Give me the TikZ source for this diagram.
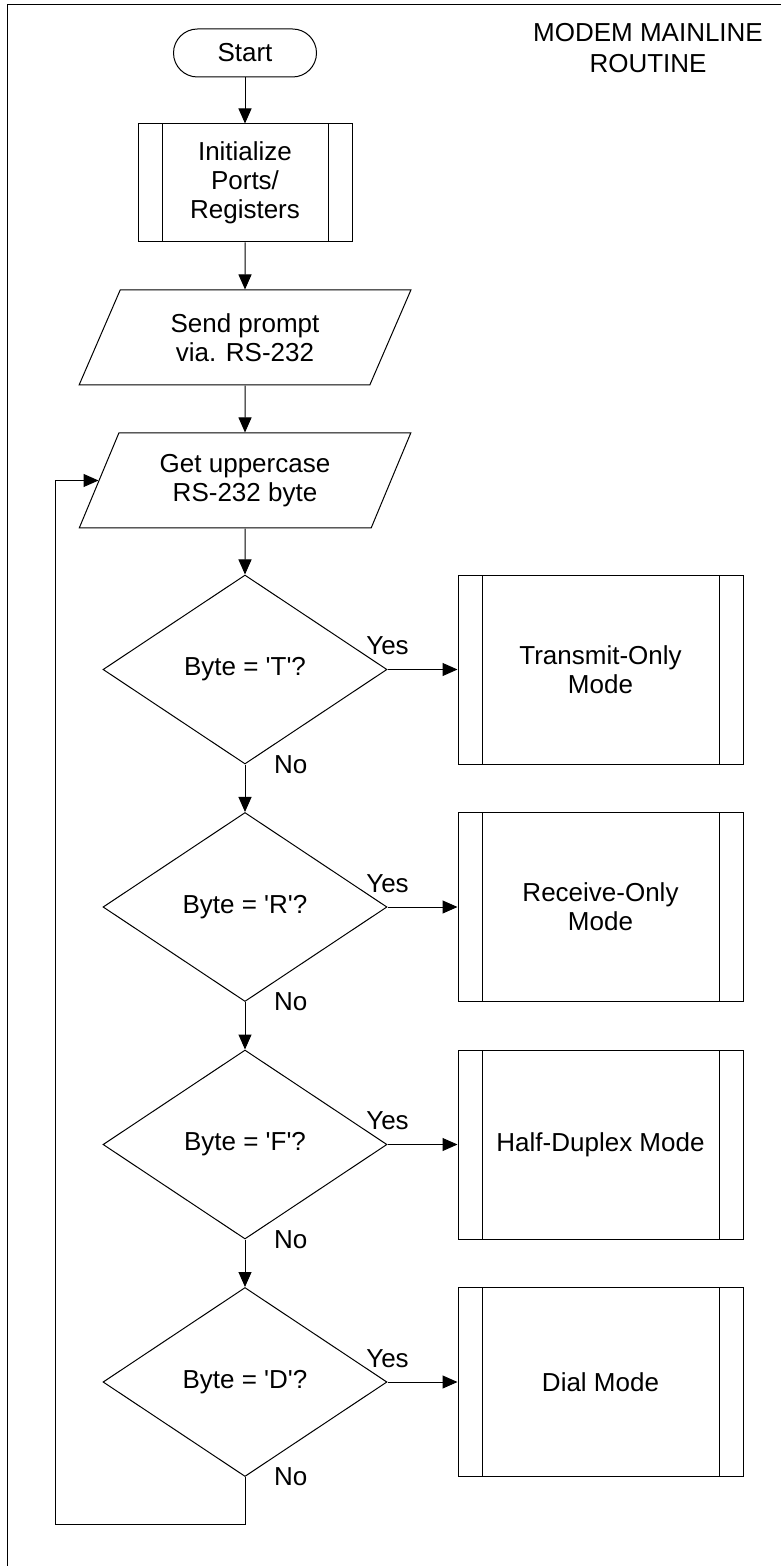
\documentclass[tikz,border=0pt]{standalone}
\usepackage{fontspec}
\setmainfont{Liberation Sans}
\usetikzlibrary{shapes.geometric,arrows.meta}
\tikzset{
  every node/.style={font=\fontsize{13}{14.5}\selectfont, align=center},
  flowline/.style={line width=0.5pt, -{Triangle[length=7.5pt,width=6.5pt]}},
  startstop/.style={draw, line width=0.5pt, rounded corners=12pt, minimum width=71.5pt, minimum height=24pt},
  subproc/.style={draw, line width=0.5pt, inner sep=0pt,
    path picture={
      \draw[line width=0.5pt] ([xshift=12pt]path picture bounding box.north west) -- ([xshift=12pt]path picture bounding box.south west);
      \draw[line width=0.5pt] ([xshift=-12pt]path picture bounding box.north east) -- ([xshift=-12pt]path picture bounding box.south east);
    }},
  inout/.style={draw, line width=0.5pt, trapezium, trapezium left angle=63, trapezium right angle=117,
    trapezium stretches=true, minimum width=166pt, minimum height=47.5pt, inner sep=0pt},
  decision/.style={draw, line width=0.5pt, diamond, inner sep=0pt, minimum width=142pt, minimum height=94.5pt}
}
\begin{document}
\begin{tikzpicture}[x=0.5pt,y=-0.5pt]
    \useasboundingbox (0,0) rectangle (781,1566);
    % page frame
    \draw[line width=0.5pt] (7,1566) -- (7,5) -- (781,5);
    \node (title) at (648,48) [font=\fontsize{13}{15.5}\selectfont] {MODEM MAINLINE\\ROUTINE};

    \node[startstop] (start) at (245,53) {Start};
    \node[subproc, minimum width=107pt, minimum height=59pt] (init) at (245,183) {Initialize\\Ports/\\Registers};
    \node[inout] (prompt) at (245,337.5) {Send prompt\\via. RS-232};
    \node[inout] (getbyte) at (245,480.5) {Get uppercase\\RS-232 byte};

    % one decision and one mode per command byte
    \foreach \ch/\mode/\y in {T/{Transmit-Only\\Mode}/669.5, R/{Receive-Only\\Mode}/907,
                              F/{Half-Duplex Mode}/1144.5, D/{Dial Mode}/1382} {
        \node[decision] (d\ch) at (245,\y) {Byte = \textquotesingle\ch\textquotesingle?};
        \node[subproc, minimum width=142.5pt, minimum height=94.5pt] (m\ch) at (600.5,\y) {\mode};
        \draw[flowline] (d\ch.east) -- (m\ch.west);
        \node[anchor=base] at ([yshift=7.5pt]d\ch.east) {Yes};
        \node[anchor=west] at ([xshift=11pt]d\ch.south) {No};
    }

    \draw[flowline] (start) -- (init);
    \draw[flowline] (init) -- (prompt);
    \draw[flowline] (prompt) -- (getbyte);
    \draw[flowline] (getbyte) -- (dT);
    \draw[flowline] (dT) -- (dR);
    \draw[flowline] (dR) -- (dF);
    \draw[flowline] (dF) -- (dD);

    % back to the read
    \coordinate (loopturn) at (55,1524);
    \draw[flowline] (dD.south) |- (loopturn) |- (getbyte.west);
\end{tikzpicture}
\end{document}
